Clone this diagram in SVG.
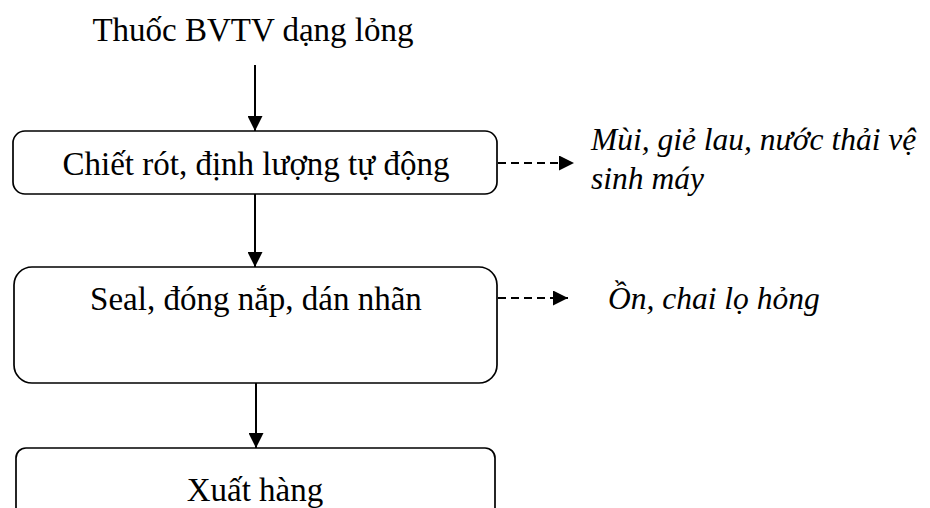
<svg xmlns="http://www.w3.org/2000/svg" width="930" height="508" viewBox="0 0 930 508">
  <style>
    .box { fill: #fff; stroke: #000; stroke-width: 1.7; }
    text { font-family: 'Liberation Serif', 'Times New Roman', serif; font-size: 33px; fill: #000; }
    .c { text-anchor: middle; }
    .i { font-style: italic; font-size: 31.5px; }
    .flow { stroke: #000; stroke-width: 2; fill: none; }
    .dash { stroke: #000; stroke-width: 2; fill: none; stroke-dasharray: 8 5; }
  </style>
  <defs>
    <!-- solid triangular arrowhead shared by all connectors -->
    <marker id="head" viewBox="0 0 15 15" refX="15" refY="7.5" markerWidth="15" markerHeight="15" markerUnits="userSpaceOnUse" orient="auto">
      <path d="M0,0 L15,7.5 L0,15 z" fill="#000"/>
    </marker>
  </defs>

  <rect width="930" height="508" fill="#fff"/>

  <g id="connectors">
    <line class="flow" x1="255" y1="65" x2="255" y2="131" marker-end="url(#head)"/>
    <line class="flow" x1="255" y1="194" x2="255" y2="267" marker-end="url(#head)"/>
    <line class="flow" x1="256" y1="383" x2="256" y2="448" marker-end="url(#head)"/>
    <line class="dash" x1="498" y1="163" x2="574" y2="163" marker-end="url(#head)"/>
    <line class="dash" x1="498" y1="298" x2="568" y2="298" marker-end="url(#head)"/>
  </g>

  <g id="input">
    <text class="c" x="253" y="41">Thuốc BVTV dạng lỏng</text>
  </g>

  <g id="fill-dose">
    <rect class="box" x="13" y="131" width="484" height="63" rx="12"/>
    <text class="c" x="256" y="175">Chiết rót, định lượng tự động</text>
  </g>

  <g id="waste-1">
    <text class="i" x="591" y="150">Mùi, giẻ lau, nước thải vệ</text>
    <text class="i" x="591" y="189">sinh máy</text>
  </g>

  <g id="seal-label">
    <rect class="box" x="14" y="267" width="483" height="116" rx="18"/>
    <text class="c" x="256" y="310">Seal, đóng nắp, dán nhãn</text>
  </g>

  <g id="waste-2">
    <text class="i" x="608" y="309">Ồn, chai lọ hỏng</text>
  </g>

  <g id="dispatch">
    <rect class="box" x="16" y="448" width="479" height="72" rx="10"/>
    <text class="c" x="255" y="501">Xuất hàng</text>
  </g>
</svg>
